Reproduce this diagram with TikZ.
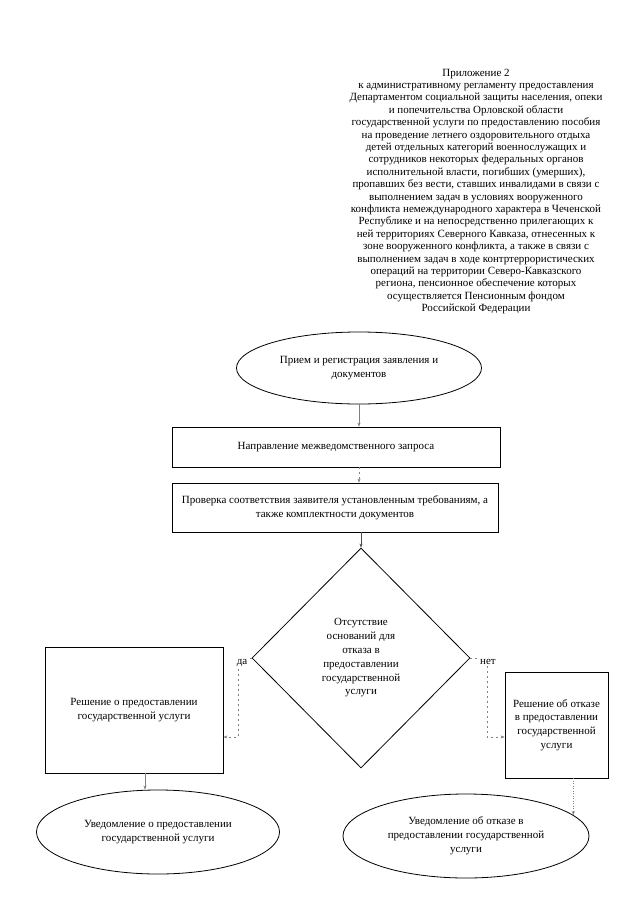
\documentclass[tikz,border=0pt]{standalone}
\usepackage{fontspec}
\setmainfont{Liberation Serif}
\usetikzlibrary{shapes.geometric,arrows.meta}
\begin{document}
\begin{tikzpicture}[x=1pt,y=-1pt,
  every node/.style={font=\fontsize{11}{13.8}\selectfont, align=center, inner sep=0pt},
  shapeline/.style={draw=black, line width=0.8pt},
  oval/.style={shapeline, ellipse},
  box/.style={shapeline, rectangle},
  decision/.style={shapeline, diamond},
  conn/.style={draw=gray, line width=0.6pt, -{Stealth[length=4pt,width=3pt]}},
  dconn/.style={conn, dash pattern=on 2pt off 3pt},
  lbl/.style={fill=white, inner sep=1pt},
  hdr/.style={font=\fontsize{11}{12.4}\selectfont, align=center}
]
\fill[white] (0,0) rectangle (640,905);
\useasboundingbox (0,0) rectangle (640,905);

\node[hdr] (header) at (476,191.5) {Приложение 2\\
к административному регламенту предоставления\\
Департаментом социальной защиты населения, опеки\\
и попечительства Орловской области\\
государственной услуги по предоставлению пособия\\
на проведение летнего оздоровительного отдыха\\
детей отдельных категорий военнослужащих и\\
сотрудников некоторых федеральных органов\\
исполнительной власти, погибших (умерших),\\
пропавших без вести, ставших инвалидами в связи с\\
выполнением задач в условиях вооруженного\\
конфликта немеждународного характера в Чеченской\\
Республике и на непосредственно прилегающих к\\
ней территориях Северного Кавказа, отнесенных к\\
зоне вооруженного конфликта, а также в связи с\\
выполнением задач в ходе контртеррористических\\
операций на территории Северо-Кавказского\\
региона, пенсионное обеспечение которых\\
осуществляется Пенсионным фондом\\
Российской Федерации};

\node[oval, minimum width=245pt, minimum height=72pt] (e1) at (359,368) {Прием и регистрация заявления и\\документов};
\node[box, minimum width=328pt, minimum height=40pt] (r1) at (336,447) {Направление межведомственного запроса};
\node[box, minimum width=326pt, minimum height=49pt] (r2) at (335,507.5) {Проверка соответствия заявителя установленным требованиям, а\\также комплектности документов};
\node[decision, minimum width=218pt, minimum height=220pt] (d) at (361,658) {Отсутствие\\оснований для\\отказа в\\предоставлении\\государственной\\услуги};
\node[box, minimum width=178pt, minimum height=126pt] (lb) at (134,710) {Решение о предоставлении\\государственной услуги};
\node[box, minimum width=103pt, minimum height=106pt] (rb) at (556.5,725) {Решение об отказе\\в предоставлении\\государственной\\услуги};
\node[oval, minimum width=243pt, minimum height=84pt] (le) at (158,832) {Уведомление о предоставлении\\государственной услуги};
\node[oval, minimum width=246pt, minimum height=84pt] (re) at (466,836) {Уведомление об отказе в\\предоставлении государственной\\услуги};

\coordinate (ya) at (238,737);
\coordinate (na) at (487,737);

\draw[conn] (e1.south) -- (e1.south |- r1.north);
\draw[dconn] (r1.south -| e1.south) -- (r2.north -| e1.south);
\draw[conn, draw=gray!60!black] (r2.south -| d.north) -- (d.north);
\draw[dconn] (d.west) -| (ya) -- (ya -| lb.east);
\draw[dconn] (d.east) -| (na) -- (na -| rb.west);
\draw[conn] ([xshift=11pt]lb.south) -- ([xshift=11pt]lb.south |- le.north);
\draw[conn, dash pattern=on 1pt off 1.5pt] (rb.south -| re.11.8) -- (re.11.8);

\node[lbl] (yes) at (242,663) {да};
\node[lbl] (no) at (488,662) {нет};
\end{tikzpicture}
\end{document}
